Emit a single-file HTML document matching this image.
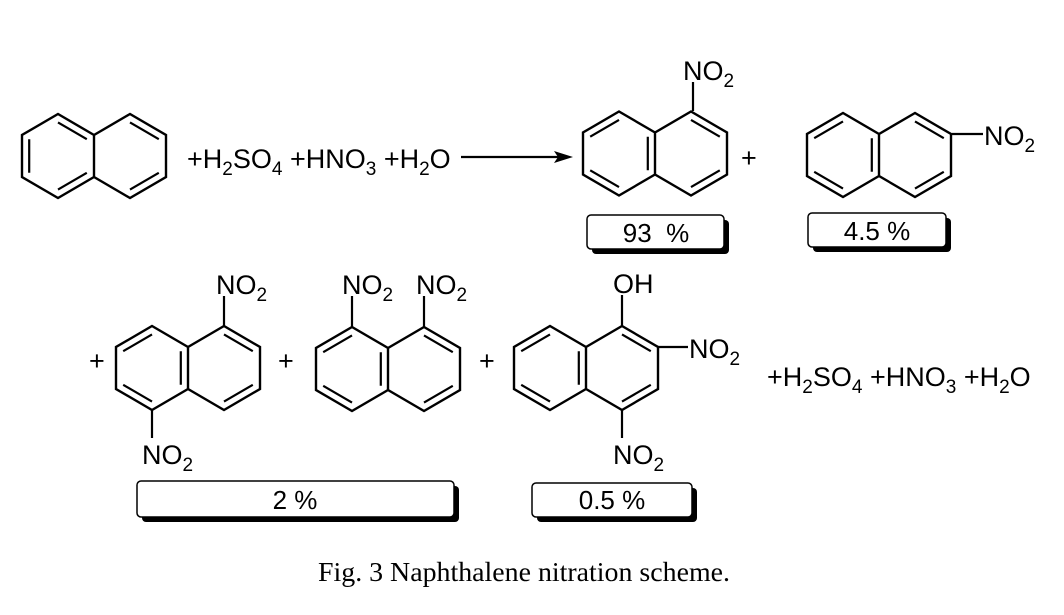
<!DOCTYPE html>
<html><head><meta charset="utf-8"><style>
html,body{margin:0;padding:0;background:#fff;width:1064px;height:615px;overflow:hidden}
svg{display:block}
text{font-family:"Liberation Sans",sans-serif;fill:#000}
</style></head><body>
<svg width="1064" height="615" viewBox="0 0 1064 615" xmlns="http://www.w3.org/2000/svg">
<defs>
<g id="outline" fill="none" stroke="#000" stroke-width="2.4" stroke-linejoin="miter">
<path d="M36,-21 L0,-42 L-36,-21 L-36,21 L0,42 L36,21 L72,42 L108,21 L108,-21 L72,-42 Z M36,-21 L36,21"/>
</g>
<g id="dblA" fill="none" stroke="#000" stroke-width="2.2">
<g transform="scale(.8)"><path vector-effect="non-scaling-stroke" d="M-36,-21 L0,-42 M-36,21 L0,42 M36,-21 L36,21"/></g>
<g transform="translate(72,0) scale(.8)"><path vector-effect="non-scaling-stroke" d="M0,-42 L36,-21 M36,21 L0,42"/></g>
</g>
<g id="dblB" fill="none" stroke="#000" stroke-width="2.2">
<g transform="scale(.8)"><path vector-effect="non-scaling-stroke" d="M-36,-21 L-36,21 M0,-42 L36,-21 M0,42 L36,21"/></g>
<g transform="translate(72,0) scale(.8)"><path vector-effect="non-scaling-stroke" d="M0,-42 L36,-21 M36,21 L0,42"/></g>
</g>
</defs>

<!-- mol1 -->
<g transform="translate(58,156)"><use href="#outline"/><use href="#dblB"/></g>
<text x="187" y="168" font-size="27">+H<tspan font-size="19" dy="7">2</tspan><tspan dy="-7">SO</tspan><tspan font-size="19" dy="7">4</tspan><tspan dy="-7"> +HNO</tspan><tspan font-size="19" dy="7">3</tspan><tspan dy="-7"> +H</tspan><tspan font-size="19" dy="7">2</tspan><tspan dy="-7">O</tspan></text>
<line x1="461" y1="157" x2="560" y2="157" stroke="#000" stroke-width="2.2"/>
<polygon points="573,157 554,151 558,157 554,163" fill="#000"/>

<!-- mol2 -->
<g transform="translate(619,153.5)"><use href="#outline"/><use href="#dblA"/></g>
<line x1="693" y1="111" x2="693" y2="82" stroke="#000" stroke-width="2.2"/>
<text x="683" y="80" font-size="27">NO<tspan font-size="19" dy="7">2</tspan></text>
<text x="741" y="167" font-size="27">+</text>
<rect x="592" y="220" width="137" height="34" rx="4" fill="#000"/>
<rect x="587" y="215" width="137" height="34" rx="4" fill="#fff" stroke="#000" stroke-width="1.5"/>
<text x="656" y="242" font-size="26" text-anchor="middle" xml:space="preserve">93  %</text>

<!-- mol3 -->
<g transform="translate(843,155)"><use href="#outline"/><use href="#dblA"/></g>
<line x1="952" y1="134" x2="983" y2="134" stroke="#000" stroke-width="2.2"/>
<text x="984" y="145" font-size="27">NO<tspan font-size="19" dy="7">2</tspan></text>
<rect x="813" y="218" width="138" height="34" rx="4" fill="#000"/>
<rect x="808" y="213" width="138" height="34" rx="4" fill="#fff" stroke="#000" stroke-width="1.5"/>
<text x="877" y="240" font-size="26" text-anchor="middle">4.5 %</text>

<!-- row 2 -->
<text x="89" y="370" font-size="27">+</text>
<g transform="translate(152,368)"><use href="#outline"/><use href="#dblA"/></g>
<line x1="224" y1="326" x2="224" y2="296" stroke="#000" stroke-width="2.2"/>
<text x="216" y="294" font-size="27">NO<tspan font-size="19" dy="7">2</tspan></text>
<line x1="152" y1="410" x2="152" y2="438" stroke="#000" stroke-width="2.2"/>
<text x="142" y="464" font-size="27">NO<tspan font-size="19" dy="7">2</tspan></text>

<text x="278" y="370" font-size="27">+</text>
<g transform="translate(352,369)"><use href="#outline"/><use href="#dblA"/></g>
<line x1="352" y1="327" x2="352" y2="296" stroke="#000" stroke-width="2.2"/>
<line x1="424" y1="327" x2="424" y2="296" stroke="#000" stroke-width="2.2"/>
<text x="342" y="294" font-size="27">NO<tspan font-size="19" dy="7">2</tspan></text>
<text x="416" y="294" font-size="27">NO<tspan font-size="19" dy="7">2</tspan></text>

<text x="479" y="370" font-size="27">+</text>
<g transform="translate(550,368)"><use href="#outline"/><use href="#dblA"/></g>
<line x1="622" y1="326" x2="622" y2="295" stroke="#000" stroke-width="2.2"/>
<text x="613" y="293" font-size="27">OH</text>
<line x1="658" y1="347" x2="688" y2="347" stroke="#000" stroke-width="2.2"/>
<text x="689" y="358" font-size="27">NO<tspan font-size="19" dy="7">2</tspan></text>
<line x1="622" y1="410" x2="622" y2="438" stroke="#000" stroke-width="2.2"/>
<text x="613" y="464" font-size="27">NO<tspan font-size="19" dy="7">2</tspan></text>

<text x="767" y="386" font-size="27">+H<tspan font-size="19" dy="7">2</tspan><tspan dy="-7">SO</tspan><tspan font-size="19" dy="7">4</tspan><tspan dy="-7"> +HNO</tspan><tspan font-size="19" dy="7">3</tspan><tspan dy="-7"> +H</tspan><tspan font-size="19" dy="7">2</tspan><tspan dy="-7">O</tspan></text>

<rect x="142" y="486" width="317" height="36" rx="4" fill="#000"/>
<rect x="137" y="481" width="317" height="36" rx="4" fill="#fff" stroke="#000" stroke-width="1.5"/>
<text x="295" y="509" font-size="26" text-anchor="middle">2 %</text>
<rect x="537" y="488" width="160" height="34" rx="4" fill="#000"/>
<rect x="532" y="483" width="160" height="34" rx="4" fill="#fff" stroke="#000" stroke-width="1.5"/>
<text x="612" y="509" font-size="26" text-anchor="middle">0.5 %</text>

<text x="318" y="581" font-size="27" textLength="412" lengthAdjust="spacingAndGlyphs" style="font-family:'Liberation Serif',serif">Fig. 3 Naphthalene nitration scheme.</text>
</svg>
</body></html>
